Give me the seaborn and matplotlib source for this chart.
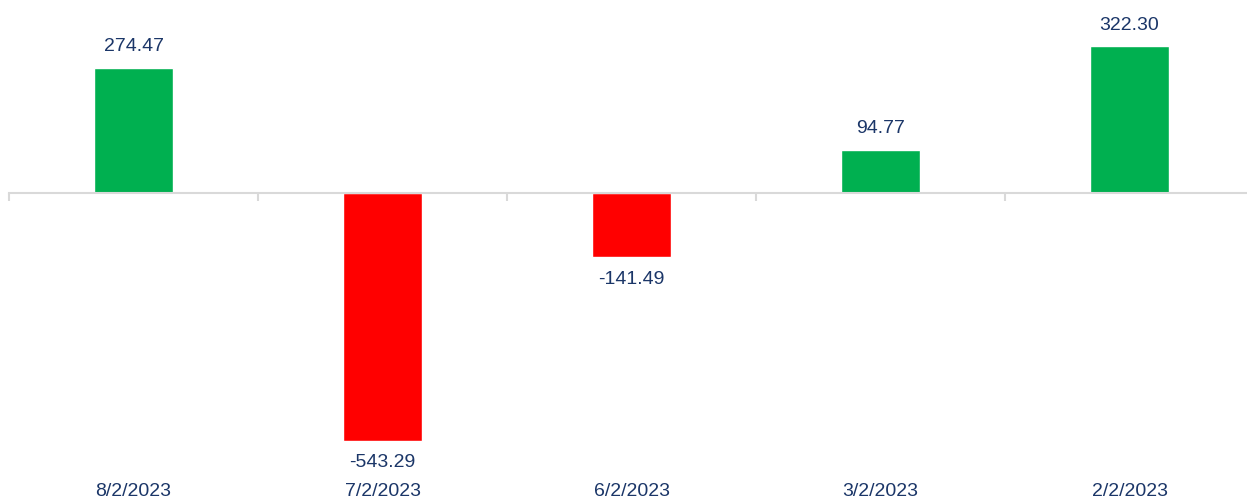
import seaborn as sns
import matplotlib.pyplot as plt
import matplotlib.transforms as mtransforms


# Data
dates = ['8/2/2023', '7/2/2023', '6/2/2023', '3/2/2023', '2/2/2023']
values = [274.47, -543.29, -141.49, 94.77, 322.30]
signs = ['up' if v >= 0 else 'down' for v in values]

text_color = '#1B3668'

sns.set_style('white')
plt.rcParams['font.family'] = ['Liberation Sans', 'DejaVu Sans']

fig = plt.figure(figsize=(12.47, 5), dpi=100)
ax = fig.add_axes([9 / 1247, 30 / 500, 1245 / 1247, 470 / 500])

sns.barplot(x=dates, y=values, hue=signs, palette={'up': '#00B050', 'down': '#FF0000'},
            dodge=False, width=0.32, legend=False, saturation=1, ax=ax)

ax.set_xlim(-0.5, 4.5)
ax.set_ylim(-608, 423.7)

# Zero axis with category separator ticks
for s in ['top', 'right', 'left']:
    ax.spines[s].set_visible(False)
ax.spines['bottom'].set_position(('data', 0))
ax.spines['bottom'].set_color('#D9D9D9')
ax.spines['bottom'].set_linewidth(1.5)
ax.set_xticks(range(len(dates)))
ax.set_xticklabels([])
ax.tick_params(axis='x', which='major', length=0)
ax.set_xticks([i - 0.5 for i in range(len(dates) + 1)], minor=True)
ax.tick_params(axis='x', which='minor', bottom=True, length=6, width=1.5,
               color='#D9D9D9', direction='out')
ax.set_yticks([])
ax.set_xlabel('')
ax.set_ylabel('')

# Value labels
for i, v in enumerate(values):
    if v >= 0:
        ax.annotate(f'{v:.2f}', (i, v), xytext=(0, 9), textcoords='offset points',
                    ha='center', va='bottom', fontsize=14, color=text_color)
    else:
        ax.annotate(f'{v:.2f}', (i, v), xytext=(0, -10), textcoords='offset points',
                    ha='center', va='top', fontsize=14, color=text_color)

# Category labels at the bottom
trans = mtransforms.blended_transform_factory(ax.transData, fig.transFigure)
for i, d in enumerate(dates):
    ax.text(i, 9 / 500, d, transform=trans, ha='center', va='center',
            fontsize=14, color=text_color)

fig.savefig('out.png', dpi=100)
